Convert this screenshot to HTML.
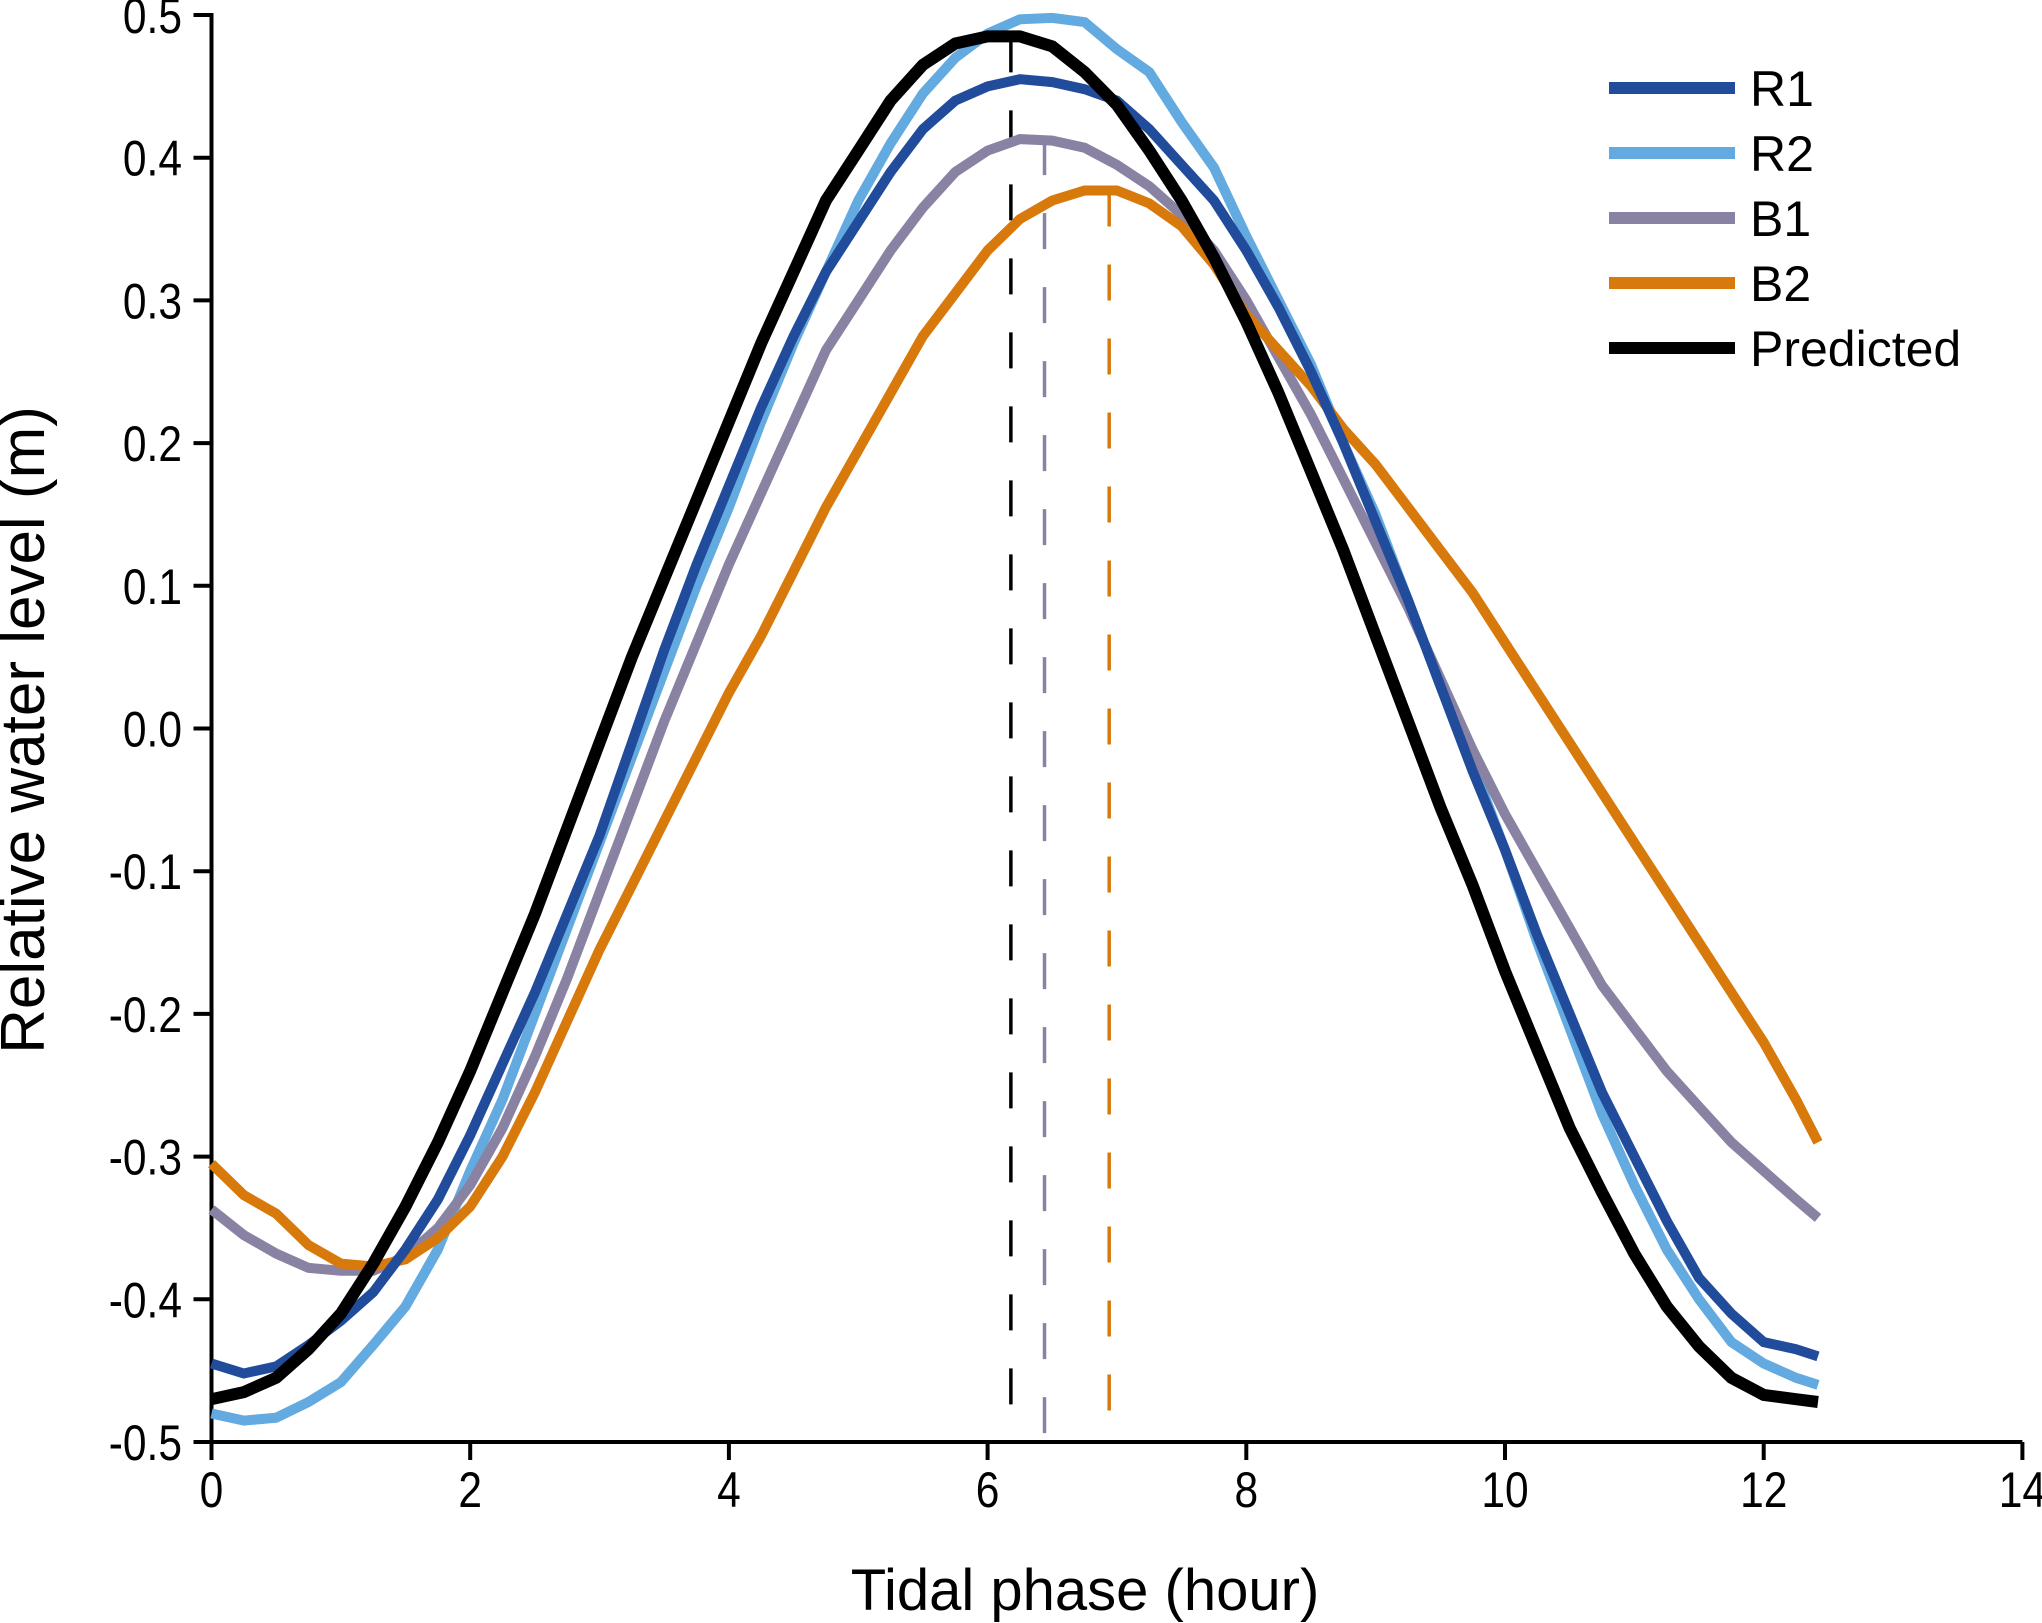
<!DOCTYPE html>
<html><head><meta charset="utf-8"><style>
html,body{margin:0;padding:0;background:#fff;}
svg{display:block;font-family:"Liberation Sans",Arial,sans-serif;}
</style></head><body>
<svg id="chart" width="2042" height="1623" viewBox="0 0 2042 1623" xmlns="http://www.w3.org/2000/svg"></svg>
<script>
const hours = [0,0.25,0.5,0.75,1,1.25,1.5,1.75,2,2.25,2.5,2.75,3,3.25,3.5,3.75,4,4.25,4.5,4.75,5,5.25,5.5,5.75,6,6.25,6.5,6.75,7,7.25,7.5,7.75,8,8.25,8.5,8.75,9,9.25,9.5,9.75,10,10.25,10.5,10.75,11,11.25,11.5,11.75,12,12.25,12.42];
const r1 = [-0.445,-0.452,-0.447,-0.432,-0.415,-0.395,-0.365,-0.33,-0.285,-0.235,-0.185,-0.13,-0.075,-0.01,0.055,0.115,0.17,0.225,0.275,0.32,0.355,0.39,0.42,0.44,0.45,0.455,0.453,0.448,0.44,0.42,0.395,0.37,0.335,0.295,0.25,0.2,0.145,0.09,0.03,-0.03,-0.085,-0.145,-0.2,-0.255,-0.3,-0.345,-0.385,-0.41,-0.43,-0.435,-0.44];
const r2 = [-0.48,-0.485,-0.483,-0.472,-0.458,-0.432,-0.405,-0.365,-0.31,-0.26,-0.2,-0.14,-0.08,-0.02,0.04,0.1,0.155,0.215,0.27,0.32,0.37,0.41,0.445,0.47,0.487,0.497,0.498,0.495,0.476,0.46,0.425,0.393,0.345,0.3,0.255,0.2,0.15,0.09,0.03,-0.025,-0.085,-0.15,-0.21,-0.27,-0.32,-0.365,-0.4,-0.43,-0.445,-0.455,-0.46];
const b1 = [-0.337,-0.355,-0.368,-0.378,-0.38,-0.38,-0.37,-0.35,-0.32,-0.28,-0.23,-0.175,-0.115,-0.055,0.005,0.06,0.115,0.165,0.215,0.265,0.3,0.335,0.365,0.39,0.405,0.413,0.412,0.407,0.395,0.38,0.36,0.335,0.3,0.26,0.22,0.175,0.13,0.085,0.035,-0.015,-0.06,-0.1,-0.14,-0.18,-0.21,-0.24,-0.265,-0.29,-0.31,-0.33,-0.343];
const b2 = [-0.305,-0.327,-0.34,-0.362,-0.375,-0.377,-0.372,-0.357,-0.335,-0.3,-0.255,-0.205,-0.155,-0.11,-0.065,-0.02,0.025,0.065,0.11,0.155,0.195,0.235,0.275,0.305,0.335,0.357,0.37,0.377,0.377,0.368,0.352,0.325,0.29,0.265,0.24,0.21,0.185,0.155,0.125,0.095,0.06,0.025,-0.01,-0.045,-0.08,-0.115,-0.15,-0.185,-0.22,-0.26,-0.29];
const predicted = [-0.47,-0.465,-0.455,-0.435,-0.41,-0.375,-0.335,-0.29,-0.24,-0.185,-0.13,-0.07,-0.01,0.05,0.105,0.16,0.215,0.27,0.32,0.37,0.405,0.44,0.465,0.48,0.485,0.485,0.478,0.46,0.437,0.405,0.37,0.33,0.285,0.235,0.18,0.125,0.065,0.005,-0.055,-0.11,-0.17,-0.225,-0.28,-0.325,-0.368,-0.405,-0.433,-0.455,-0.467,-0.47,-0.472];
const peakHours = [6.18,6.44,6.94];
const peakValues = [0.485,0.413,0.377];
const xTicks = [0,2,4,6,8,10,12,14];
const yTicks = [-0.5,-0.4,-0.3,-0.2,-0.1,0.0,0.1,0.2,0.3,0.4,0.5];
const seriesNames = ["R1","R2","B1","B2","Predicted"];

const NS = "http://www.w3.org/2000/svg";
const svg = document.getElementById('chart');
const X0 = 211.5, XS = 129.35, Y0 = 728.5, YS = 1427;
function sx(h){ return X0 + h*XS; }
function sy(v){ return Y0 - v*YS; }
function mk(tag, attrs, parent){
  const e = document.createElementNS(NS, tag);
  for (const k in attrs) e.setAttribute(k, attrs[k]);
  (parent||svg).appendChild(e);
  return e;
}
const colors = {R1:"#214b9b",R2:"#62aadf",B1:"#8a82a3",B2:"#d8790c",Predicted:"#000"};
const data = {R1:r1,R2:r2,B1:b1,B2:b2,Predicted:predicted};
const widths = {R1:10,R2:10,B1:10,B2:10,Predicted:12};

const ax = mk('line',{x1:sx(0),y1:sy(-0.5),x2:sx(14),y2:sy(-0.5),stroke:'#000','stroke-width':4});


const ay = mk('line',{x1:sx(0),y1:sy(0.5)-2,x2:sx(0),y2:sy(-0.5)+18,stroke:'#000','stroke-width':4});



xTicks.forEach(t=>{
  const l = mk('line',{x1:sx(t),y1:sy(-0.5),x2:sx(t),y2:sy(-0.5)+18,stroke:'#000','stroke-width':4});
  
  
  const tx = mk('text',{x:sx(t),y:1507,'font-size':50,'text-anchor':'middle',transform:`translate(${sx(t)},0) scale(0.85,1) translate(${-sx(t)},0)`});
  tx.textContent = String(t);
  
  
});
yTicks.forEach(t=>{
  const l = mk('line',{x1:sx(0)-18,y1:sy(t),x2:sx(0),y2:sy(t),stroke:'#000','stroke-width':4});
  
  
  const tx = mk('text',{x:182,y:sy(t)+18,'font-size':50,'text-anchor':'end',transform:`translate(182,0) scale(0.85,1) translate(-182,0)`});
  tx.textContent = t.toFixed(1);
  
  
});

const dashColors = ["#000","#8a82a3","#d8790c"];
peakHours.forEach((h,i)=>{
  const l = mk('line',{x1:sx(h),y1:sy(peakValues[i]),x2:sx(h),y2:sy(-0.5),stroke:dashColors[i],'stroke-width':3.5,'stroke-dasharray':'36 38'});
  
  
});

["R2","B1","B2","R1","Predicted"].forEach(n=>{
  const pts = hours.map((h,i)=>sx(h).toFixed(1)+','+sy(data[n][i]).toFixed(1)).join(' ');
  const p = mk('polyline',{points:pts,fill:'none',stroke:colors[n],'stroke-width':widths[n],'stroke-linejoin':'miter','stroke-miterlimit':2});
  
  
});

seriesNames.forEach((n,i)=>{
  const y = 88 + i*65;
  const g = mk('g',{});
  
  
  mk('line',{x1:1609,y1:y,x2:1735,y2:y,stroke:colors[n],'stroke-width':12},g);
  const t = mk('text',{x:1750,y:y+18,'font-size':50},g);
  t.textContent = n;
});

const xt = mk('text',{x:1085,y:1610,'font-size':58,'text-anchor':'middle'});
xt.textContent = 'Tidal phase (hour)';


const yt = mk('text',{x:0,y:0,'font-size':62,'text-anchor':'middle',transform:'translate(44,730) rotate(-90)'});
yt.textContent = 'Relative water level (m)';


</script>
</body></html>
